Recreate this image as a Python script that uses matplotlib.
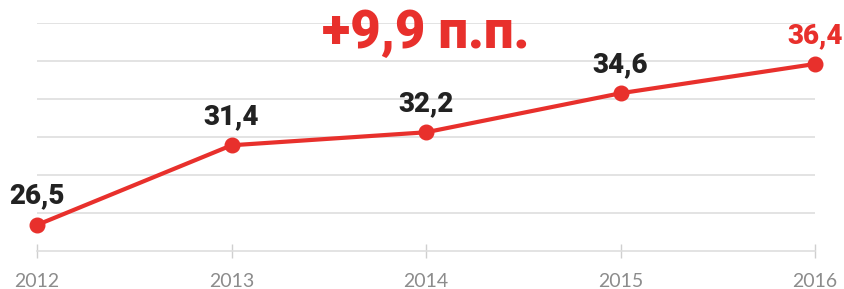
import matplotlib
matplotlib.use("Agg")
import matplotlib.pyplot as plt
import numpy as np

years = ["2012", "2013", "2014", "2015", "2016"]
values = [26.5, 31.4, 32.2, 34.6, 36.4]
value_labels = ["26,5", "31,4", "32,2", "34,6", "36,4"]
title_text = "+9,9 п.п."

RED = "#e8302c"
GRID = "#dedede"

fig = plt.figure(figsize=(8.44, 2.89), dpi=100)
ax = fig.add_axes([37/844, (289-251)/289, (815-37)/844, (251-23)/289])

x = np.arange(len(years))
ymin, ymax = 24.9, 38.92
ax.set_xlim(0, len(years) - 1)
ax.set_ylim(ymin, ymax)

for yv in np.linspace(ymin, ymax, 7)[1:]:
    ax.axhline(yv, color=GRID, lw=1.2, zorder=0)

ax.plot(x, values, color=RED, lw=3.0, marker="o", markersize=10.5,
        clip_on=False, zorder=3, solid_capstyle="round")

for i, (v, lab) in enumerate(zip(values, value_labels)):
    c = RED if i == len(values) - 1 else "#222222"
    ax.annotate(lab, (x[i], v), xytext=(0, 11), textcoords="offset points",
                ha="center", va="bottom", fontsize=20, fontweight="black",
                family="Roboto", color=c)

ax.text(0.5, 0.89, title_text, transform=ax.transAxes, ha="center", va="baseline",
        fontsize=38, fontweight="black", family="Roboto", color=RED)

for s in ["top", "right", "left"]:
    ax.spines[s].set_visible(False)
ax.spines["bottom"].set_color(GRID)
ax.spines["bottom"].set_linewidth(1.2)
ax.set_yticks([])
ax.set_xticks(x)
ax.set_xticklabels(years, family="Lato", fontweight="normal", fontsize=14, color="#8c8c8c")
ax.tick_params(axis="x", direction="inout", length=10, width=1, color="#cfcfcf", pad=11)

fig.savefig("out.png", dpi=100)
